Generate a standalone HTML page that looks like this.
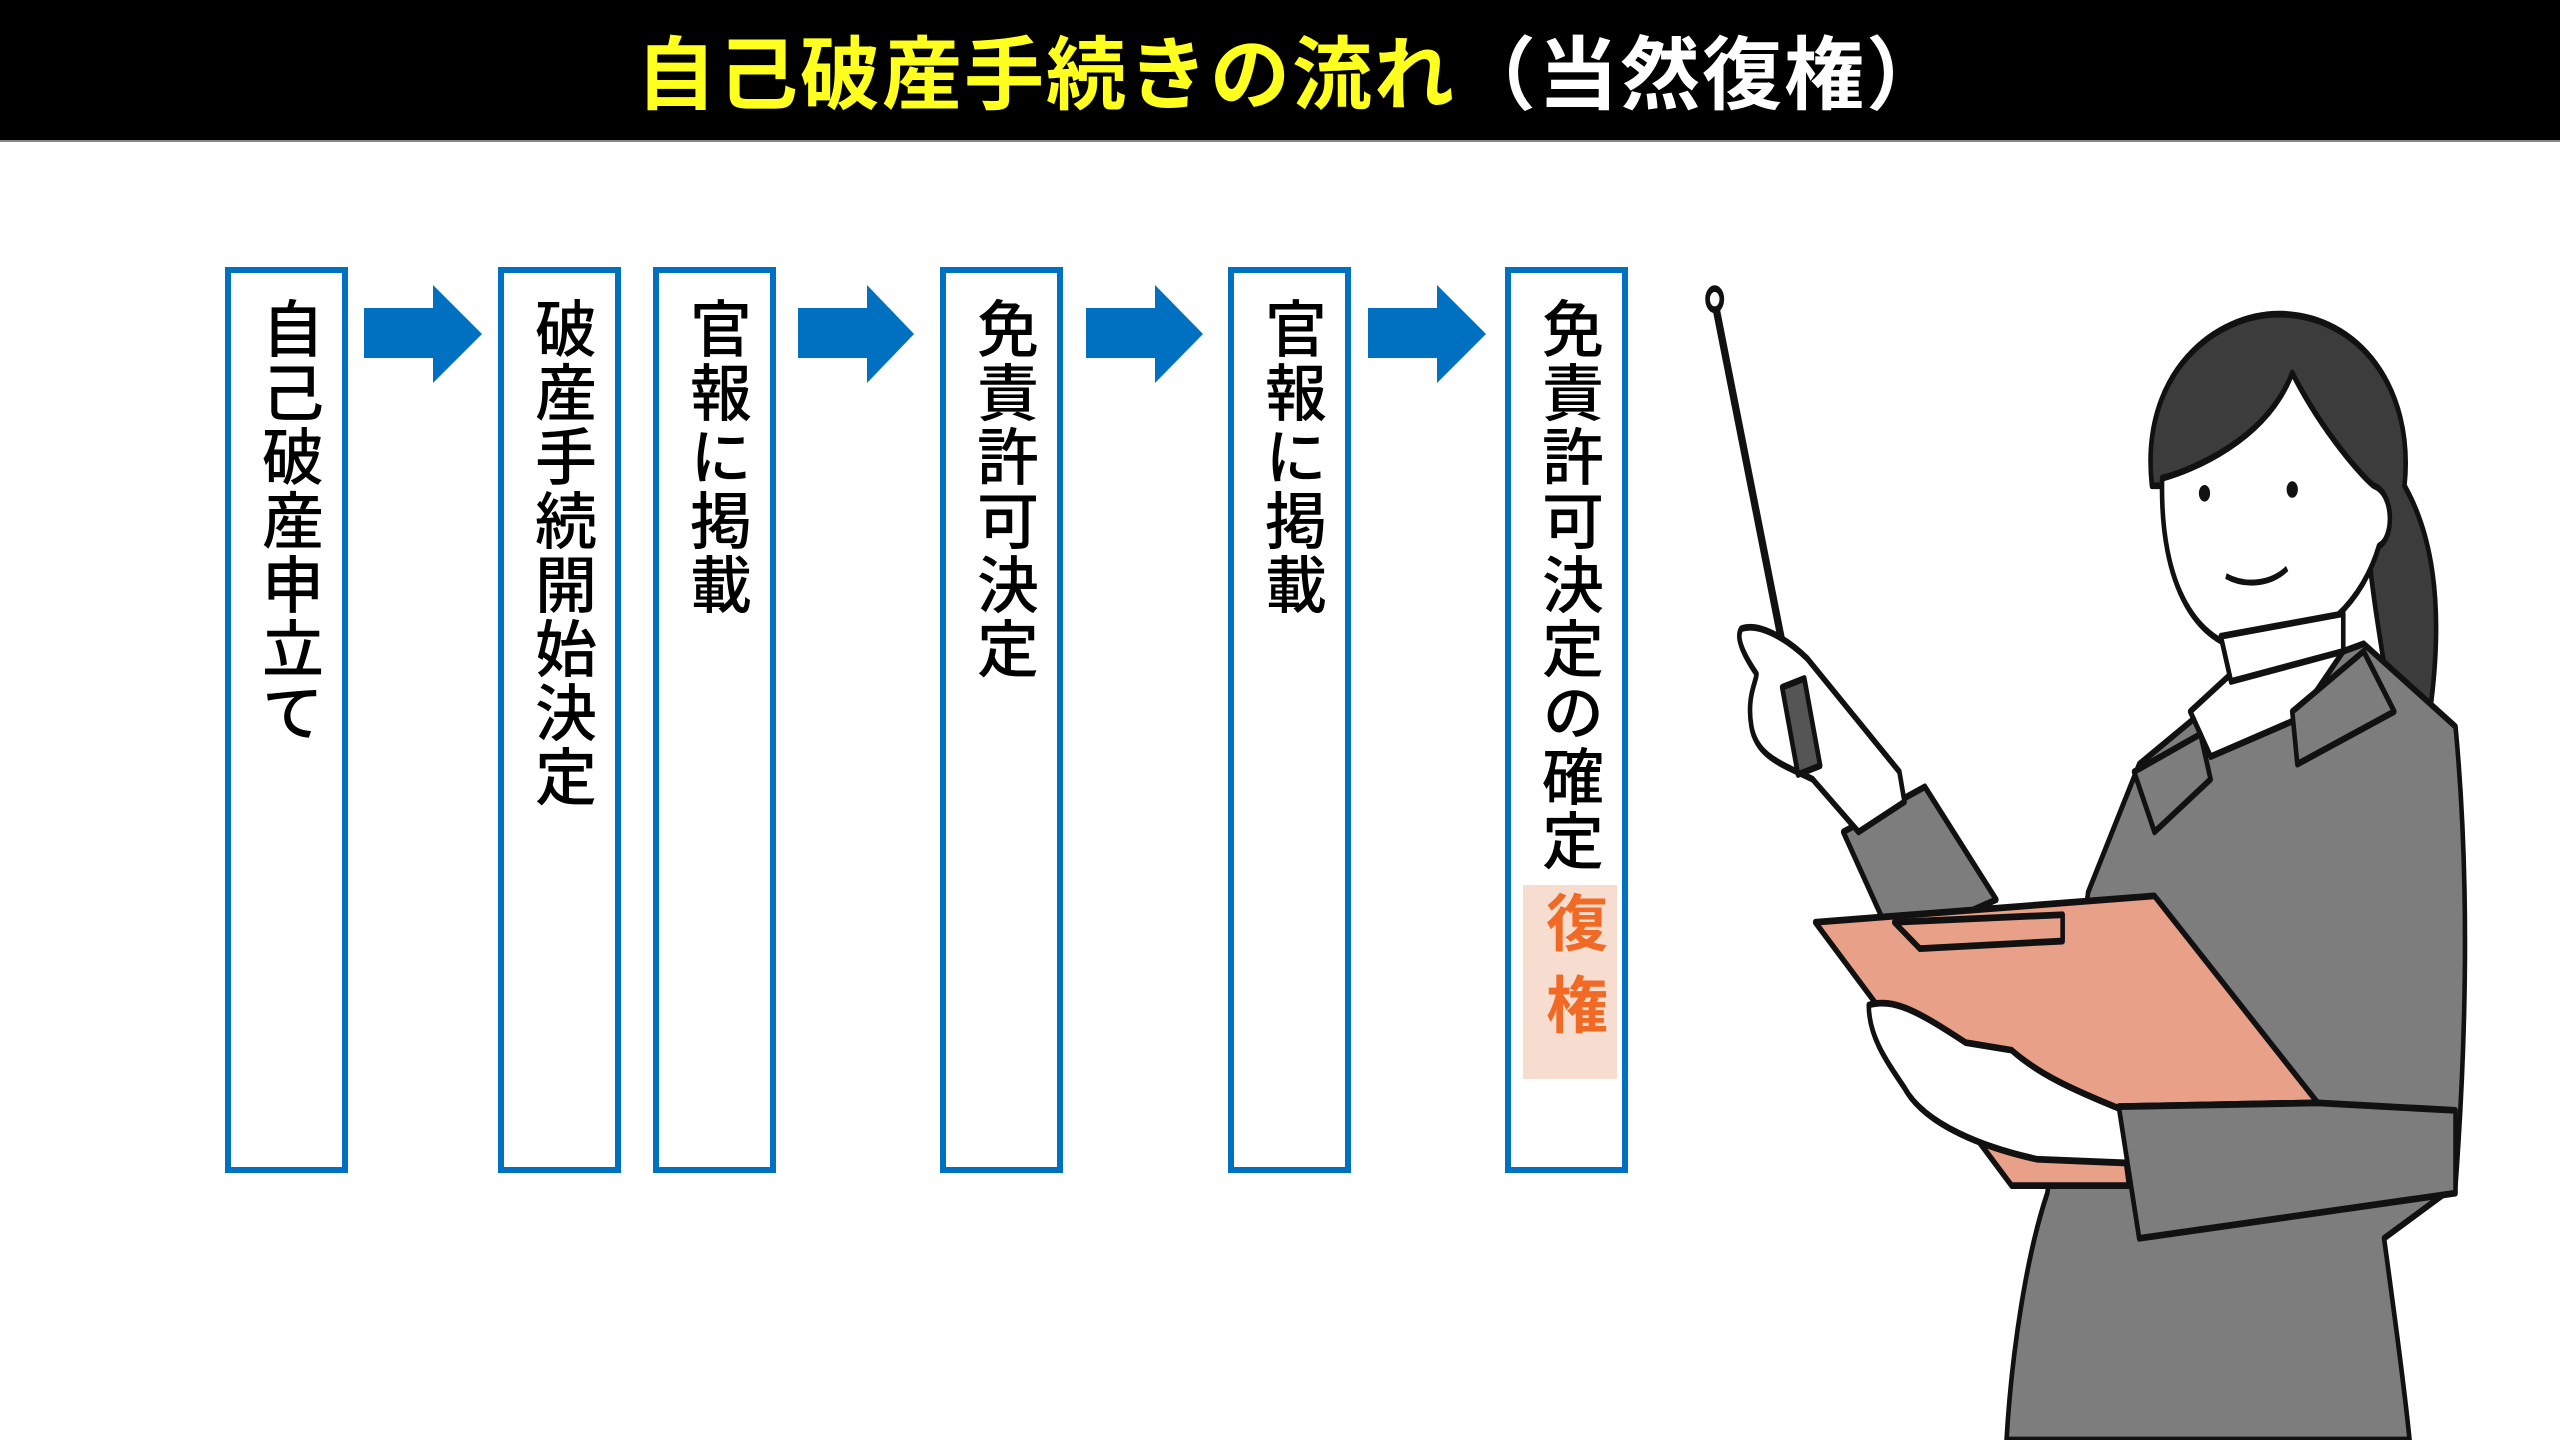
<!DOCTYPE html>
<html><head><meta charset="utf-8"><style>
body{margin:0;width:2560px;height:1440px;background:#fff;position:relative;overflow:hidden;font-family:"Liberation Sans","Noto Sans CJK JP",sans-serif}
.bar{position:absolute;left:0;top:0;width:2560px;height:140px;background:#000;border-bottom:2px solid #888}
.title{position:absolute;left:12px;width:2560px;top:26px;text-align:center;font-size:80px;font-weight:bold;line-height:100px;color:#fff;letter-spacing:2px}
.title .y{color:#ffff20}
.box{position:absolute;top:267px;width:111px;height:894px;border:6px solid #0070c0;background:#fff}
.vt{position:absolute;top:24px;left:0;width:111px;writing-mode:vertical-rl;font-size:62px;line-height:111px;letter-spacing:2px;color:#000;font-weight:500}
.arrow{position:absolute;top:285px}
.fk{position:absolute;left:12px;top:612px;width:94px;height:194px;background:#f6ddd0}
.fk span{display:block;writing-mode:vertical-rl;font-size:62px;line-height:94px;color:#f06a25;font-weight:bold;letter-spacing:20px;margin-top:6px}
</style></head><body>
<div class="bar"></div>
<div class="title"><span class="y">自己破産手続きの流れ</span>（当然復権）</div>

<div class="box" style="left:225px"><div class="vt">自己破産申立て</div></div>
<div class="box" style="left:498px"><div class="vt">破産手続開始決定</div></div>
<div class="box" style="left:653px"><div class="vt">官報に掲載</div></div>
<div class="box" style="left:940px"><div class="vt">免責許可決定</div></div>
<div class="box" style="left:1228px"><div class="vt">官報に掲載</div></div>
<div class="box" style="left:1505px"><div class="vt">免責許可決定の確定</div><div class="fk"><span>復権</span></div></div>

<svg class="arrow" style="left:364px" width="120" height="100"><polygon points="0,23 69,23 69,0 118,49 69,98 69,73 0,73" fill="#0070c0"/></svg>
<svg class="arrow" style="left:798px" width="120" height="100"><polygon points="0,23 69,23 69,0 116,49 69,98 69,73 0,73" fill="#0070c0"/></svg>
<svg class="arrow" style="left:1086px" width="120" height="100"><polygon points="0,23 69,23 69,0 117,49 69,98 69,73 0,73" fill="#0070c0"/></svg>
<svg class="arrow" style="left:1368px" width="120" height="100"><polygon points="0,23 69,23 69,0 118,49 69,98 69,73 0,73" fill="#0070c0"/></svg>

<svg style="position:absolute;left:1680px;top:260px" width="800" height="1180" viewBox="0 0 1568 1568" preserveAspectRatio="none">
<g stroke="#111" stroke-width="9" stroke-linejoin="round" fill="none">
<line x1="68" y1="55" x2="250" y2="680" stroke-width="14"/>
<circle cx="68" cy="52" r="14" fill="#fff"/>
<path d="M925,300 C900,150 1050,70 1180,72 C1330,75 1440,170 1420,300 C1470,360 1500,450 1470,600 L1390,580 C1360,450 1340,380 1350,300 Z" fill="#3c3c3c"/>
<path d="M800,840 L900,670 L1060,580 L1340,510 L1520,620 C1545,800 1545,1000 1520,1230 L1380,1300 C1400,1400 1420,1500 1430,1568 L640,1568 C650,1450 680,1320 720,1240 L800,840 Z" fill="#7d7d7d"/>
<path d="M1000,600 L1080,550 L1300,520 L1210,610 L1040,660 Z" fill="#fff"/>
<path d="M890,680 L1020,630 L1040,690 L930,760 Z" fill="#7d7d7d"/>
<path d="M1200,600 L1340,520 L1400,600 L1210,670 Z" fill="#7d7d7d"/>
<path d="M945,290 C1000,280 1150,240 1200,150 C1260,230 1340,290 1360,300 C1400,310 1400,370 1370,380 C1340,450 1260,510 1140,520 C1010,520 940,430 945,290 Z" fill="#fff"/>
<path d="M1060,500 L1080,560 L1300,520 L1300,470 Z" fill="#fff"/>
<path d="M320,760 L480,700 L620,850 L420,910 Z" fill="#7d7d7d"/>
<path d="M120,490 C160,480 220,510 250,530 L430,680 L440,720 L350,760 L260,690 C200,670 150,660 140,620 C130,580 150,560 150,550 C120,520 110,500 120,490 Z" fill="#fff"/>
<rect x="215" y="560" width="45" height="120" fill="#555" transform="rotate(-15 237 620)"/>
<path d="M265,880 L930,845 L1250,1120 L860,1125 L880,1230 L650,1230 Z" fill="#e8a088"/>
<path d="M420,880 L750,870 L750,905 L470,915 Z" fill="#e8a088"/>
<path d="M370,990 C420,980 470,1000 560,1040 L650,1050 C700,1080 760,1100 870,1130 L880,1200 L700,1195 C600,1180 480,1150 440,1100 C400,1060 370,1030 370,990 Z" fill="#fff"/>
<path d="M860,1125 L1250,1120 L1520,1130 L1520,1240 L900,1300 Z" fill="#7d7d7d"/>
</g>
<circle cx="1028" cy="310" r="11" fill="#111"/>
<circle cx="1200" cy="305" r="11" fill="#111"/>
<path d="M1070,420 C1110,435 1160,430 1190,410" stroke="#111" stroke-width="8" fill="none"/>
</svg>
</body></html>
